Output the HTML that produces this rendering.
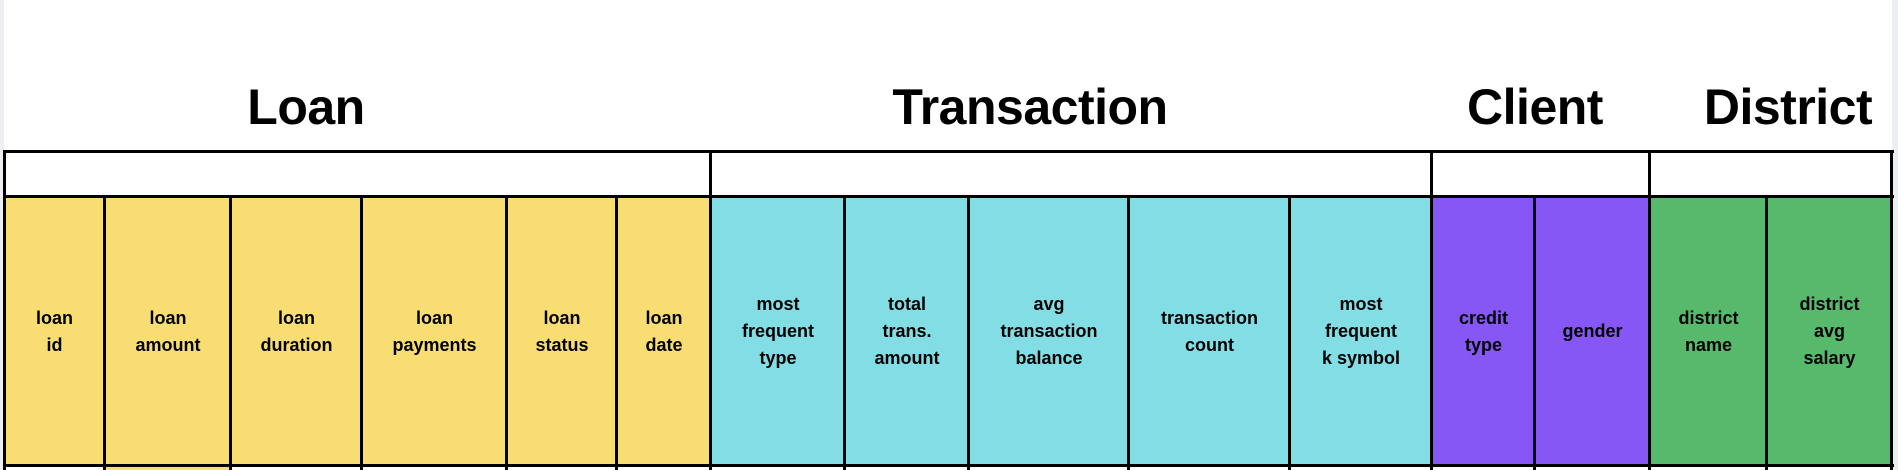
<!DOCTYPE html>
<html><head><style>
body{margin:0;width:1898px;height:470px;background:#fff;position:relative;overflow:hidden;font-family:"Liberation Sans",sans-serif;}
.t{position:absolute;top:78px;font-weight:bold;font-size:50px;transform:translateX(-50%);white-space:nowrap;letter-spacing:-0.5px}
.c{position:absolute;top:197px;height:269px;display:flex;align-items:center;justify-content:center;text-align:center;font-weight:bold;font-size:18px;line-height:27px;box-sizing:border-box}
.v{position:absolute;background:#000;width:3px}
.h{position:absolute;background:#000;height:3px}
</style></head><body>
<div style="position:absolute;left:0;top:0;width:4px;height:470px;background:#eceef2"></div>
<div style="position:absolute;left:1892px;top:0;width:6px;height:470px;background:#eceef2"></div>
<div class="t" style="left:306px">Loan</div>
<div class="t" style="left:1030px">Transaction</div>
<div class="t" style="left:1535px">Client</div>
<div class="t" style="left:1788px">District</div>

<div class="c" style="left:4px;width:101px;background:#f8dd72">loan<br>id</div>
<div class="c" style="left:105px;width:126px;background:#f8dd72">loan<br>amount</div>
<div class="c" style="left:231px;width:131px;background:#f8dd72">loan<br>duration</div>
<div class="c" style="left:362px;width:145px;background:#f8dd72">loan<br>payments</div>
<div class="c" style="left:507px;width:110px;background:#f8dd72">loan<br>status</div>
<div class="c" style="left:617px;width:94px;background:#f8dd72">loan<br>date</div>
<div class="c" style="left:711px;width:134px;background:#83dde5">most<br>frequent<br>type</div>
<div class="c" style="left:845px;width:124px;background:#83dde5">total<br>trans.<br>amount</div>
<div class="c" style="left:969px;width:160px;background:#83dde5">avg<br>transaction<br>balance</div>
<div class="c" style="left:1129px;width:161px;background:#83dde5">transaction<br>count</div>
<div class="c" style="left:1290px;width:142px;background:#83dde5">most<br>frequent<br>k symbol</div>
<div class="c" style="left:1432px;width:103px;background:#8657f5">credit<br>type</div>
<div class="c" style="left:1535px;width:115px;background:#8657f5">gender</div>
<div class="c" style="left:1650px;width:117px;background:#56b96b">district<br>name</div>
<div class="c" style="left:1767px;width:125px;background:#56b96b">district<br>avg<br>salary</div>
<div style="position:absolute;left:106px;top:467px;width:123px;height:3px;background:#f8dd72"></div>

<div class="h" style="left:3px;top:150px;width:1891px"></div>
<div class="h" style="left:3px;top:195px;width:1891px"></div>
<div class="h" style="left:3px;top:464px;width:1891px"></div>
<div class="v" style="left:3px;top:150px;height:320px"></div>
<div class="v" style="left:103px;top:195px;height:275px"></div>
<div class="v" style="left:229px;top:195px;height:275px"></div>
<div class="v" style="left:360px;top:195px;height:275px"></div>
<div class="v" style="left:505px;top:195px;height:275px"></div>
<div class="v" style="left:615px;top:195px;height:275px"></div>
<div class="v" style="left:709px;top:150px;height:320px"></div>
<div class="v" style="left:843px;top:195px;height:275px"></div>
<div class="v" style="left:967px;top:195px;height:275px"></div>
<div class="v" style="left:1127px;top:195px;height:275px"></div>
<div class="v" style="left:1288px;top:195px;height:275px"></div>
<div class="v" style="left:1430px;top:150px;height:320px"></div>
<div class="v" style="left:1533px;top:195px;height:275px"></div>
<div class="v" style="left:1648px;top:150px;height:320px"></div>
<div class="v" style="left:1765px;top:195px;height:275px"></div>
<div class="v" style="left:1890px;top:150px;height:320px"></div>
</body></html>
